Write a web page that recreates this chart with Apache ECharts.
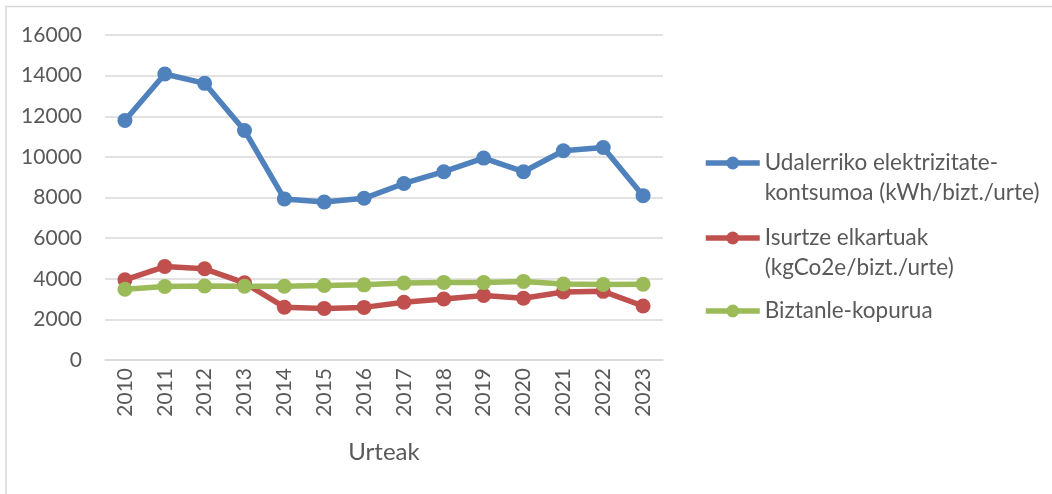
<!DOCTYPE html>
<html>
<head>
<meta charset="utf-8">
<script src="https://cdn.jsdelivr.net/npm/echarts@6/dist/echarts.min.js"></script>
<style>
html,body{margin:0;padding:0;background:#fff;}
#c{width:1052px;height:494px;}
</style>
</head>
<body>
<div id="c"></div>
<script>
var categories = ['2010','2011','2012','2013','2014','2015','2016','2017','2018','2019','2020','2021','2022','2023'];
var seriesNames = ['Udalerriko elektrizitate-\nkontsumoa (kWh/bizt./urte)', 'Isurtze elkartuak\n(kgCo2e/bizt./urte)', 'Biztanle-kopurua'];
var electricity = [11790, 14080, 13620, 11300, 7930, 7780, 7960, 8690, 9270, 9940, 9270, 10300, 10460, 8090];
var emissions = [3950, 4600, 4490, 3800, 2600, 2540, 2590, 2840, 3000, 3180, 3040, 3350, 3380, 2660];
var population = [3480, 3620, 3640, 3630, 3630, 3670, 3700, 3790, 3820, 3810, 3870, 3740, 3720, 3730];
var yTicks = [0, 2000, 4000, 6000, 8000, 10000, 12000, 14000, 16000];
var xAxisTitle = 'Urteak';

var colors = ['#4F81BD', '#C0504D', '#9BBB59'];
var FONT = 'Lato';
var TXT = '#595959';

function mkSeries(name, data, color) {
  return {
    name: name, type: 'line', data: data,
    symbol: 'circle', symbolSize: 15,
    lineStyle: { width: 5.5, color: color },
    itemStyle: { color: color },
    emphasis: { disabled: true },
    animation: false
  };
}

var legendBase = {
  orient: 'vertical', left: 703, itemWidth: 54, itemHeight: 16, itemGap: 0,
  padding: 0,
  selectedMode: false,
  lineStyle: { width: 5.5 },
  textStyle: { fontFamily: FONT, fontSize: 22.5, color: TXT, lineHeight: 30, padding: [0,0,0,0] }
};
function mkLegend(name, top, multi) {
  return Object.assign({}, legendBase, {
    top: top,
    data: [name],
    formatter: function (n) { return multi ? '\n' + n : n; }
  });
}

var chart = echarts.init(document.getElementById('c'), null, { renderer: 'canvas' });
chart.setOption({
  animation: false,
  color: colors,
  grid: { left: 105, right: 389, top: 35, bottom: 134, containLabel: false },
  legend: [
    mkLegend(seriesNames[0], 118, true),
    mkLegend(seriesNames[1], 193, true),
    mkLegend(seriesNames[2], 296, false)
  ],
  xAxis: {
    type: 'category', data: categories, boundaryGap: true,
    name: xAxisTitle, nameLocation: 'middle', nameGap: 80,
    nameTextStyle: { fontFamily: FONT, fontSize: 24, color: TXT },
    axisLine: { show: true, lineStyle: { color: '#D9D9D9', width: 1.5 } },
    axisTick: { show: false },
    axisLabel: { rotate: 90, fontFamily: FONT, fontSize: 21, color: TXT, margin: 8, interval: 0 }
  },
  yAxis: {
    type: 'value', min: yTicks[0], max: yTicks[yTicks.length - 1], interval: yTicks[1] - yTicks[0],
    axisLine: { show: false }, axisTick: { show: false },
    axisLabel: { fontFamily: FONT, fontSize: 21, color: TXT, margin: 23, formatter: function (v) { return String(v); } },
    splitLine: { lineStyle: { color: '#D9D9D9', width: 1.5 } }
  },
  graphic: [{
    type: 'polyline', silent: true,
    shape: { points: [[6, 494], [6, 6.5], [1052, 6.5]] },
    style: { stroke: '#D9D9D9', lineWidth: 1.5, fill: null }
  }],
  series: [
    mkSeries(seriesNames[0], electricity, colors[0]),
    mkSeries(seriesNames[1], emissions, colors[1]),
    mkSeries(seriesNames[2], population, colors[2])
  ]
});
</script>
</body>
</html>
